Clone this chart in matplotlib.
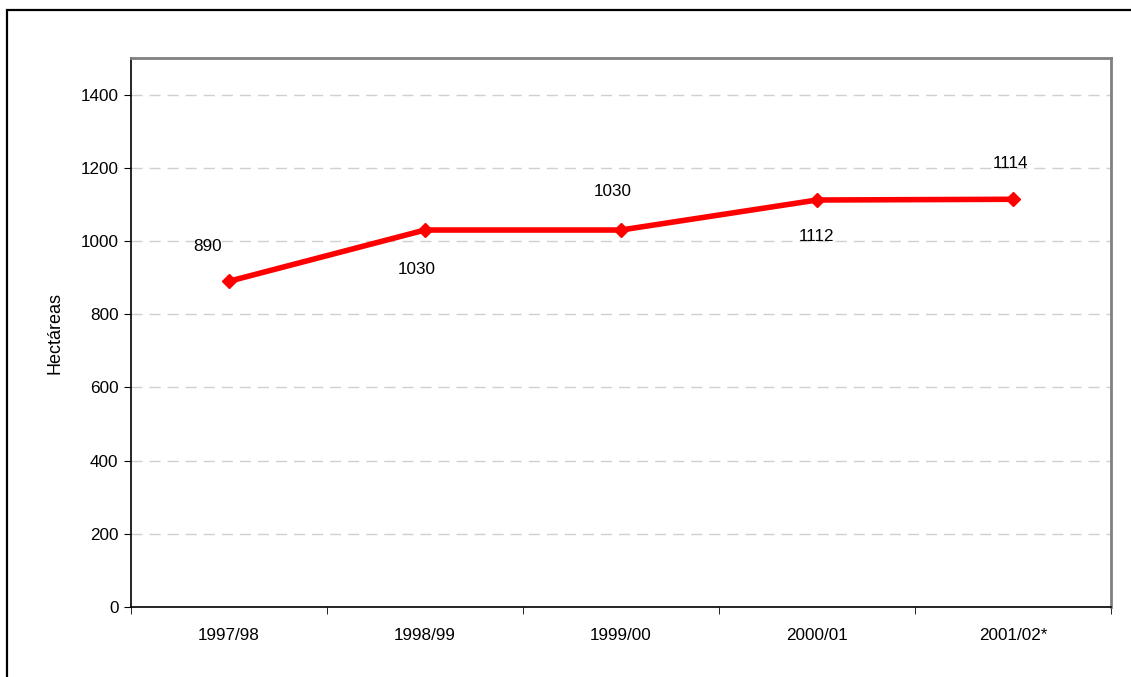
import matplotlib
matplotlib.use("Agg")
import matplotlib.pyplot as plt
from matplotlib.patches import Rectangle

categories = ["1997/98", "1998/99", "1999/00", "2000/01", "2001/02*"]
hectareas = [890, 1030, 1030, 1112, 1114]
yticks = [0, 200, 400, 600, 800, 1000, 1200, 1400]

plt.rcParams['font.family'] = ['Liberation Sans', 'DejaVu Sans']

W, H = 1131, 677
fig = plt.figure(figsize=(W / 100, H / 100), dpi=100)
fig.patch.set_facecolor('white')

# outer frame
fig.patches.append(Rectangle((7 / W, -0.05), 1.2, 1 - 10 / H + 0.05,
                             transform=fig.transFigure, fill=False,
                             edgecolor='black', linewidth=1.6))

ax = fig.add_axes([131 / W, 1 - 607 / H, (1111 - 131) / W, (607 - 58) / H])
x = list(range(len(categories)))
ax.plot(x, hectareas, color='#ff0000', linewidth=4, marker='D',
        markersize=7.5, zorder=3, solid_joinstyle='round')

FS = 12.3
ax.set_xlim(-0.5, len(categories) - 0.5)
ax.set_ylim(0, 1500)
ax.set_yticks(yticks)
ax.set_yticklabels([str(v) for v in yticks], fontsize=FS)
ax.set_xticks(x)
ax.set_xticklabels(categories, fontsize=FS)
ax.tick_params(axis='x', length=0, pad=15)
ax.set_xticks([i - 0.5 for i in range(len(categories) + 1)], minor=True)
ax.tick_params(axis='x', which='minor', length=5, direction='out', color='black')
ax.tick_params(axis='y', length=5, direction='out', color='black', pad=4)

ax.grid(axis='y', color='#d0d0d0', linestyle=(0, (8, 5)), linewidth=1.0)
ax.set_axisbelow(True)
for s in ['top', 'right']:
    ax.spines[s].set_color('#808080')
    ax.spines[s].set_linewidth(2)
for s in ['left', 'bottom']:
    ax.spines[s].set_color('black')
    ax.spines[s].set_linewidth(1.2)

ax.set_ylabel("Hectáreas", fontsize=13, labelpad=12)

offsets = [(-21, 35), (-8, -39), (-8, 39), (0, -36), (-3, 36)]
for xi, v, (dx, dy) in zip(x, hectareas, offsets):
    ax.annotate(str(v), (xi, v), xytext=(dx, dy), textcoords='offset pixels',
                ha='center', va='center', fontsize=FS, zorder=4)

fig.savefig("out.png", dpi=100, facecolor='white')
